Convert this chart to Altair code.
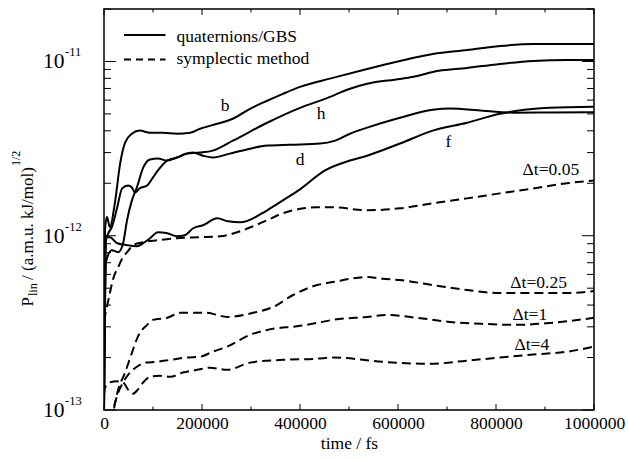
import altair as alt
import pandas as pd

FONT = "Liberation Serif"

# ---- quaternions/GBS runs (time in fs, P_lin in (a.m.u. kJ/mol)^1/2) ----
b_t = [0, 2000, 6000, 12000, 22000, 33000, 43000, 57000, 73000, 94000, 120000,
       149000, 176000, 196000, 231000, 263000, 298000, 333000, 365000, 400000,
       467000, 537000, 604000, 671000, 741000, 808000, 876000, 945000, 1000000]
b_v = [1.0e-13, 1.075e-12, 1.28e-12, 1.12e-12, 1.53e-12, 2.60e-12, 3.42e-12, 3.85e-12,
       4.01e-12, 3.90e-12, 3.90e-12, 3.85e-12, 3.90e-12, 4.11e-12, 4.39e-12, 4.69e-12,
       5.35e-12, 5.95e-12, 6.52e-12, 7.15e-12, 8.05e-12, 9.06e-12, 1.007e-11, 1.104e-11,
       1.164e-11, 1.227e-11, 1.259e-11, 1.26e-11, 1.26e-11]

h_t = [0, 4000, 16000, 29000, 39000, 47000, 57000, 67000, 80000, 94000, 110000,
       129000, 149000, 169000, 196000, 222000, 263000, 333000, 400000, 451000,
       502000, 537000, 604000, 639000, 671000, 741000, 808000, 876000, 945000, 1000000]
h_v = [1.0e-13, 7.06e-13, 8.26e-13, 8.05e-13, 9.06e-13, 1.227e-12, 1.595e-12, 1.89e-12,
       2.46e-12, 2.74e-12, 2.77e-12, 2.70e-12, 2.81e-12, 2.96e-12, 3.00e-12, 3.08e-12,
       3.51e-12, 4.45e-12, 5.42e-12, 6.10e-12, 6.97e-12, 7.44e-12, 7.94e-12, 8.26e-12,
       8.71e-12, 9.18e-12, 9.68e-12, 1.007e-11, 1.02e-11, 1.02e-11]

d_t = [0, 4000, 10000, 16000, 27000, 37000, 49000, 57000, 63000, 73000, 88000,
       100000, 110000, 129000, 149000, 169000, 182000, 202000, 222000, 257000, 298000,
       333000, 380000, 441000, 470000, 502000, 537000, 604000, 671000, 706000, 773000,
       843000, 910000, 1000000]
d_v = [1.0e-13, 9.42e-13, 1.047e-12, 1.12e-12, 1.455e-12, 1.87e-12, 1.94e-12, 1.89e-12,
       1.77e-12, 1.87e-12, 1.94e-12, 2.16e-12, 2.37e-12, 2.70e-12, 2.81e-12, 2.96e-12,
       3.00e-12, 2.88e-12, 2.81e-12, 2.96e-12, 3.16e-12, 3.29e-12, 3.33e-12, 3.38e-12,
       3.50e-12, 3.85e-12, 4.17e-12, 4.75e-12, 5.28e-12, 5.37e-12, 5.21e-12, 5.08e-12,
       5.10e-12, 5.12e-12]

f_t = [0, 4000, 12000, 27000, 47000, 67000, 80000, 94000, 110000, 129000, 149000,
       165000, 182000, 202000, 231000, 253000, 278000, 333000, 365000, 400000, 451000,
       502000, 537000, 604000, 671000, 741000, 808000, 843000, 910000, 1000000]
f_v = [1.0e-13, 9.80e-13, 9.80e-13, 9.06e-13, 8.83e-13, 8.71e-13, 9.06e-13, 9.68e-13,
       1.047e-12, 1.033e-12, 9.93e-13, 1.007e-12, 1.104e-12, 1.148e-12, 1.259e-12,
       1.21e-12, 1.195e-12, 1.40e-12, 1.595e-12, 1.845e-12, 2.37e-12, 2.70e-12,
       2.88e-12, 3.38e-12, 4.01e-12, 4.45e-12, 5.01e-12, 5.21e-12, 5.42e-12, 5.50e-12]

# ---- symplectic integrator runs at several time steps ----
s005_t = [0, 2000, 6000, 12000, 18000, 29000, 39000, 49000, 59000, 80000, 108000,
          149000, 196000, 237000, 278000, 304000, 333000, 359000, 386000, 435000,
          467000, 537000, 604000, 671000, 741000, 808000, 876000, 945000, 1000000]
s005_v = [2.70e-13, 3.42e-13, 3.90e-13, 4.69e-13, 5.57e-13, 6.61e-13, 7.54e-13,
          8.15e-13, 8.83e-13, 9.18e-13, 9.42e-13, 9.68e-13, 9.80e-13, 9.93e-13,
          1.061e-12, 1.133e-12, 1.227e-12, 1.327e-12, 1.40e-12, 1.455e-12, 1.455e-12,
          1.40e-12, 1.436e-12, 1.534e-12, 1.638e-12, 1.75e-12, 1.868e-12, 2.0e-12,
          2.076e-12]

s025_t = [15000, 29000, 43000, 57000, 69000, 88000, 100000, 129000, 155000, 182000,
          210000, 231000, 251000, 304000, 345000, 386000, 435000, 467000, 537000,
          569000, 604000, 671000, 741000, 808000, 876000, 945000, 1000000]
s025_v = [8.5e-14, 1.31e-13, 1.64e-13, 2.13e-13, 2.63e-13, 3.08e-13, 3.29e-13, 3.38e-13,
          3.61e-13, 3.61e-13, 3.61e-13, 3.51e-13, 3.42e-13, 3.61e-13, 3.90e-13, 4.57e-13,
          5.21e-13, 5.42e-13, 5.79e-13, 5.66e-13, 5.57e-13, 5.21e-13, 4.88e-13, 4.69e-13,
          4.69e-13, 4.69e-13, 4.82e-13]

s1_t = [14000, 29000, 39000, 53000, 67000, 84000, 108000, 135000, 169000, 196000,
        222000, 251000, 298000, 333000, 400000, 435000, 467000, 537000, 578000, 639000,
        706000, 773000, 843000, 910000, 1000000]
s1_v = [8.8e-14, 1.26e-13, 1.44e-13, 1.64e-13, 1.77e-13, 1.87e-13, 1.89e-13, 1.94e-13,
        2.0e-13, 2.02e-13, 2.16e-13, 2.31e-13, 2.70e-13, 2.88e-13, 3.04e-13, 3.16e-13,
        3.29e-13, 3.42e-13, 3.51e-13, 3.38e-13, 3.20e-13, 3.12e-13, 3.08e-13, 3.16e-13,
        3.38e-13]

s4_t = [0, 2000, 12000, 27000, 39000, 49000, 59000, 69000, 80000, 94000, 114000,
        135000, 161000, 190000, 216000, 251000, 298000, 365000, 435000, 467000, 569000,
        665000, 741000, 808000, 876000, 945000, 1000000]
s4_v = [1.23e-13, 1.34e-13, 1.44e-13, 1.46e-13, 1.44e-13, 1.31e-13, 1.24e-13, 1.31e-13,
        1.44e-13, 1.55e-13, 1.57e-13, 1.55e-13, 1.64e-13, 1.70e-13, 1.75e-13, 1.70e-13,
        1.87e-13, 1.94e-13, 1.97e-13, 2.0e-13, 1.89e-13, 1.84e-13, 1.92e-13, 2.0e-13,
        2.08e-13, 2.16e-13, 2.31e-13]

# ---- curve annotations ----
note_text = ["b", "h", "d", "f", "Δt=0.05", "Δt=0.25", "Δt=1", "Δt=4"]
note_t = [247000, 443000, 400000, 703000, 912000, 887000, 869000, 873000]
note_v = [5.21e-12, 4.69e-12, 2.53e-12, 3.21e-12, 2.22e-12, 5.01e-13, 3.29e-13, 2.22e-13]

# ---- axis ticks and labels ----
x_major = [0, 200000, 400000, 600000, 800000, 1000000]
x_minor = [100000, 300000, 500000, 700000, 900000]
y_major = [1e-13, 1e-12, 1e-11]
y_minor = [2e-13, 3e-13, 4e-13, 5e-13, 6e-13, 7e-13, 8e-13, 9e-13,
           2e-12, 3e-12, 4e-12, 5e-12, 6e-12, 7e-12, 8e-12, 9e-12, 2e-11]
y_exp = ["-13", "-12", "-11"]

W, H = 490, 401


def series(name, ts, vs):
    return pd.DataFrame({"t": ts, "v": vs, "series": name})


solid_df = pd.concat([series("b", b_t, b_v), series("h", h_t, h_v),
                      series("d", d_t, d_v), series("f", f_t, f_v)])
dashed_df = pd.concat([series("0.05", s005_t, s005_v), series("0.25", s025_t, s025_v),
                       series("1", s1_t, s1_v), series("4", s4_t, s4_v)])

xs = alt.Scale(domain=[0, 1000000], nice=False, zero=False)
ys = alt.Scale(type="log", domain=[1e-13, 2e-11], nice=False)

x_axis = alt.Axis(values=x_major, format="d", labelFont=FONT, labelFontSize=17.5,
                  labelColor="black", labelPadding=4, labelFlush=False,
                  labelOverlap=False, ticks=False, domain=False, grid=False,
                  title="time / fs", titleFont=FONT, titleFontSize=17.5,
                  titleFontWeight="normal", titleColor="black", titlePadding=3)

solid = alt.Chart(solid_df).mark_line(
    color="black", strokeWidth=2, clip=True, interpolate="monotone"
).encode(
    x=alt.X("t:Q", scale=xs, axis=x_axis),
    y=alt.Y("v:Q", scale=ys, axis=None),
    detail="series:N",
)

dashed = alt.Chart(dashed_df).mark_line(
    color="black", strokeWidth=2, strokeDash=[9, 5], clip=True, interpolate="monotone"
).encode(
    x=alt.X("t:Q", scale=xs),
    y=alt.Y("v:Q", scale=ys),
    detail="series:N",
)

notes = alt.Chart(pd.DataFrame({"t": note_t, "v": note_v, "label": note_text})).mark_text(
    font=FONT, fontSize=17.5, color="black", align="center", baseline="alphabetic"
).encode(x=alt.X("t:Q", scale=xs), y=alt.Y("v:Q", scale=ys), text="label:N")

# inward tick marks on all four sides
xmaj = pd.DataFrame({"t": x_major})
xmin = pd.DataFrame({"t": x_minor})
ymaj = pd.DataFrame({"v": y_major})
ymin = pd.DataFrame({"v": y_minor})


def xticks(df, length):
    bottom = alt.Chart(df).mark_rule(color="black", strokeWidth=1).encode(
        x=alt.X("t:Q", scale=xs), y=alt.value(H), y2=alt.value(H - length))
    top = alt.Chart(df).mark_rule(color="black", strokeWidth=1).encode(
        x=alt.X("t:Q", scale=xs), y=alt.value(0), y2=alt.value(length))
    return [bottom, top]


def yticks(df, length):
    left = alt.Chart(df).mark_rule(color="black", strokeWidth=1).encode(
        y=alt.Y("v:Q", scale=ys), x=alt.value(0), x2=alt.value(length))
    right = alt.Chart(df).mark_rule(color="black", strokeWidth=1).encode(
        y=alt.Y("v:Q", scale=ys), x=alt.value(W), x2=alt.value(W - length))
    return [left, right]


tick_layers = xticks(xmaj, 6) + xticks(xmin, 3.5) + yticks(ymaj, 12) + yticks(ymin, 7)

# y tick labels as 10 with a raised exponent
ylab_df = pd.DataFrame({"v": y_major, "base": ["10"] * 3, "exp": y_exp})
ylab_base = alt.Chart(ylab_df).mark_text(
    font=FONT, fontSize=21.5, color="black", align="right", baseline="alphabetic", dy=7
).encode(y=alt.Y("v:Q", scale=ys), x=alt.value(-39.5), text="base:N")
ylab_exp = alt.Chart(ylab_df).mark_text(
    font=FONT, fontSize=12.5, color="black", align="left", baseline="alphabetic", dy=-5
).encode(y=alt.Y("v:Q", scale=ys), x=alt.value(-39), text="exp:N")

# rotated y title: P_lin / (a.m.u. kJ/mol)^1/2
one = pd.DataFrame({"k": [0]})


def ytitle_piece(text, size, x, y):
    return alt.Chart(one).mark_text(
        text=text, font=FONT, fontSize=size, color="black", angle=270,
        align="left", baseline="alphabetic"
    ).encode(x=alt.value(x), y=alt.value(y))


ytitle = [
    ytitle_piece("P", 17, -71, 297.5),
    ytitle_piece("lin", 12, -67, 287),
    ytitle_piece("/ (a.m.u. kJ/mol)", 17, -71, 271),
    ytitle_piece("1/2", 12, -84, 157),
]

# legend drawn inside the frame
legend = [
    alt.Chart(one).mark_rule(color="black", strokeWidth=2).encode(
        x=alt.value(20), x2=alt.value(61.5), y=alt.value(26)),
    alt.Chart(one).mark_rule(color="black", strokeWidth=2, strokeDash=[7, 5]).encode(
        x=alt.value(20), x2=alt.value(61.5), y=alt.value(50.5)),
    alt.Chart(one).mark_text(text="quaternions/GBS", font=FONT, fontSize=17.5,
                             color="black", align="left", baseline="alphabetic").encode(
        x=alt.value(72.5), y=alt.value(32.7)),
    alt.Chart(one).mark_text(text="symplectic method", font=FONT, fontSize=17.5,
                             color="black", align="left", baseline="alphabetic").encode(
        x=alt.value(72.5), y=alt.value(54.8)),
]

chart = alt.layer(
    solid, dashed, notes, *tick_layers, ylab_base, ylab_exp, *ytitle, *legend
).properties(
    width=W, height=H,
    autosize=alt.AutoSizeParams(type="none"),
    padding={"left": 104, "top": 9, "right": 34, "bottom": 49},
    background="white",
).configure_view(stroke="black", strokeWidth=1.5)

chart.save("out.html", embed_options={"renderer": "svg", "actions": False})
